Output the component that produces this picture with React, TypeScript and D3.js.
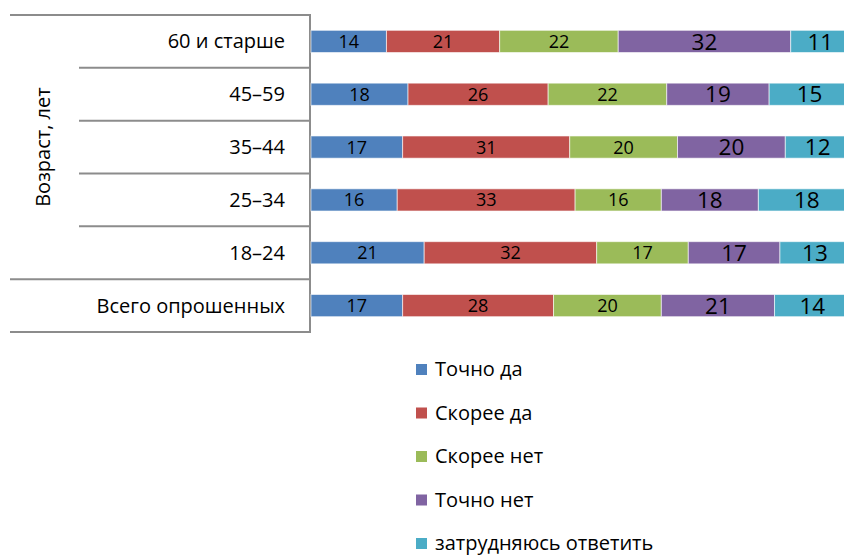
import React from "react";
import * as d3 from "d3";

// age groups, top to bottom
const categories = ["60 и старше", "45–59", "35–44", "25–34", "18–24", "Всего опрошенных"];
const seriesNames = ["Точно да", "Скорее да", "Скорее нет", "Точно нет", "затрудняюсь ответить"];
const colors = ["#4F81BD", "#C0504D", "#9BBB59", "#8064A2", "#4BACC6"];

const tochnoDa = [14, 18, 17, 16, 21, 17];
const skoreeDa = [21, 26, 31, 33, 32, 28];
const skoreeNet = [22, 22, 20, 16, 17, 20];
const tochnoNet = [32, 19, 20, 18, 17, 21];
const zatrud = [11, 15, 12, 18, 13, 14];

const values = [tochnoDa, skoreeDa, skoreeNet, tochnoNet, zatrud];
// Excel drew the last two series labels larger
const labelSizes = [18, 18, 18, 22.5, 22.5];

const W = 844;
const H = 555;
const font = "'Open Sans', 'Noto Sans', sans-serif";

const App = () => {
  const rows = categories.map((c, i) => {
    const r: any = { cat: c };
    seriesNames.forEach((s, j) => (r[s] = values[j][i]));
    return r;
  });
  const stacked = d3.stack().keys(seriesNames)(rows);

  const x = d3.scaleLinear().domain([0, 100]).range([311, 850]);
  const y = d3.scaleBand().domain(categories).range([15, 332]).padding(0);
  const bh = y.bandwidth() * 0.42;

  const axisColor = "#8c8c8c";
  const ageCats = categories.slice(0, 5);

  return (
    <svg
      width={W}
      height={H}
      style={{ position: "absolute", left: 0, top: 0, background: "#fff" }}
      fontFamily={font}
    >
      {/* table-like category axis */}
      <line x1={10} x2={310} y1={15} y2={15} stroke={axisColor} strokeWidth={2} />
      {ageCats.slice(1).map((c) => (
        <line key={c} x1={79} x2={310} y1={y(c)} y2={y(c)} stroke={axisColor} strokeWidth={2} />
      ))}
      <line x1={10} x2={310} y1={y(categories[5])} y2={y(categories[5])} stroke={axisColor} strokeWidth={2} />
      <line x1={10} x2={310} y1={332} y2={332} stroke={axisColor} strokeWidth={2} />
      <line x1={310} x2={310} y1={14} y2={333} stroke={axisColor} strokeWidth={2} />

      <text
        transform={`translate(50,${(15 + (y(categories[5]) as number)) / 2}) rotate(-90)`}
        textAnchor="middle"
        fontSize={20}
        fill="#000"
      >
        Возраст, лет
      </text>

      {categories.map((c) => (
        <text
          key={c}
          x={285}
          y={(y(c) as number) + y.bandwidth() / 2}
          dy="0.35em"
          textAnchor="end"
          fontSize={20}
          fill="#000"
        >
          {c}
        </text>
      ))}

      {stacked.map((layer, j) => (
        <g key={layer.key}>
          {layer.map((d, i) => {
            const cy = (y(categories[i]) as number) + y.bandwidth() / 2;
            return (
              <g key={i}>
                <rect
                  x={x(d[0])}
                  width={x(d[1]) - x(d[0])}
                  y={cy - bh / 2}
                  height={bh}
                  fill={colors[j]}
                  stroke="#ffffff"
                  strokeOpacity={0.6}
                  strokeWidth={1}
                />
                <text
                  x={(x(d[0]) + x(d[1])) / 2}
                  y={cy}
                  dy="0.36em"
                  textAnchor="middle"
                  fontSize={labelSizes[j]}
                  fill="#000"
                >
                  {values[j][i]}
                </text>
              </g>
            );
          })}
        </g>
      ))}

      {/* legend */}
      {seriesNames.map((s, j) => {
        const ly = 369 + j * 43.5;
        return (
          <g key={s}>
            <rect x={416} y={ly - 5} width={11} height={11} fill={colors[j]} />
            <text x={435} y={ly} dy="0.35em" fontSize={20} fill="#000">
              {s}
            </text>
          </g>
        );
      })}
    </svg>
  );
};

export default App;
